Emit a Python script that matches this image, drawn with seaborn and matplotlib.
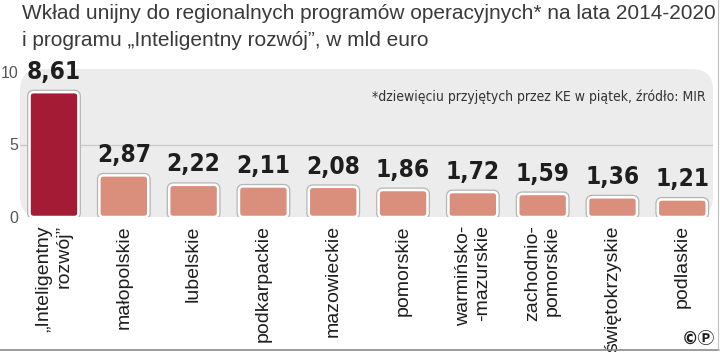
import pandas as pd
import seaborn as sns
import matplotlib.pyplot as plt
from matplotlib import font_manager
from matplotlib.patches import FancyBboxPatch
from matplotlib.lines import Line2D
import matplotlib.patheffects as pe

# Data
categories = ["„Inteligentny\nrozwój”", "małopolskie", "lubelskie", "podkarpackie",
              "mazowieckie", "pomorskie", "warmińsko-\n-mazurskie", "zachodnio-\npomorskie",
              "świętokrzyskie", "podlaskie"]
values = [8.61, 2.87, 2.22, 2.11, 2.08, 1.86, 1.72, 1.59, 1.36, 1.21]
value_labels = ["8,61", "2,87", "2,22", "2,11", "2,08", "1,86", "1,72", "1,59", "1,36", "1,21"]
y_ticks = [0, 5, 10]

title = ("Wkład unijny do regionalnych programów operacyjnych* na lata 2014-2020\n"
         "i programu „Inteligentny rozwój”, w mld euro")
note = "*dziewięciu przyjętych przez KE w piątek, źródło: MIR"

dark_red = "#a31b34"
salmon = "#d98f7c"
palette = [dark_red] + [salmon] * (len(categories) - 1)

df = pd.DataFrame({"region": categories, "value": values})

sns.set_style("white")
plt.rcParams['font.family'] = ['Liberation Sans', 'DejaVu Sans']

# a narrow face for the numbers and the footnote, if one is around
names = {f.name for f in font_manager.fontManager.ttflist}
narrow_family = ["Liberation Sans Narrow"] if "Liberation Sans Narrow" in names else ["DejaVu Sans"]

fig = plt.figure(figsize=(7.2, 3.52), dpi=100)
ax = fig.add_axes([20 / 720, 1 - 217 / 352, 693 / 720, 145 / 352])
ax.set_facecolor("none")

sns.barplot(data=df, x="region", y="value", color=salmon,
            width=0.7, saturation=1, ax=ax, zorder=2)
ax.set_ylim(0, 10)
ax.set_xlim(-0.487, 9.44)

ax.bar_label(ax.containers[0], labels=value_labels, padding=6,
             fontsize=17.5, fontweight="bold", color="#1e1e1e",
             family=narrow_family, fontstretch="condensed")

# rounded light-grey panel behind the bars
panel = FancyBboxPatch((0, 0), 1, 1.02, boxstyle="round,pad=0,rounding_size=0.03",
                       mutation_aspect=4.8, transform=ax.transAxes,
                       facecolor="#ececec", edgecolor="none", zorder=-2, clip_on=False)

# swap the square bars for rounded ones with white rim and soft grey outline
for bar, col in zip(list(ax.containers[0]), palette):
    x, y = bar.get_x(), bar.get_y()
    w, h = bar.get_width(), bar.get_height()
    fb = FancyBboxPatch((x, y), w, h, boxstyle="round,pad=0,rounding_size=0.06",
                        mutation_aspect=4.8, facecolor=col,
                        edgecolor="white", linewidth=1.8, zorder=3)
    fb.set_path_effects([pe.Stroke(linewidth=3.6, foreground="#b5b5b5"), pe.Normal()])
    ax.add_patch(fb)
    bar.set_visible(False)
ax.add_patch(panel)

ax.set_yticks(y_ticks)
ax.set_yticklabels([str(t) for t in y_ticks])
ax.tick_params(axis="y", length=0, pad=1, labelsize=11.5, labelcolor="#555555")
ax.tick_params(axis="x", length=0, pad=6, labelsize=14, labelcolor="#1e1e1e")
for lab in ax.get_xticklabels():
    lab.set_rotation(90)
    lab.set_va("top")
    lab.set_ha("center")
    lab.set_multialignment("right")
ax.axhline(5, color="#c9c9c9", linewidth=0.9, zorder=1)
ax.set_xlabel("")
ax.set_ylabel("")
sns.despine(ax=ax, left=True, bottom=True)

ax.text(0.99, 0.83, note, transform=ax.transAxes, ha="right", va="center",
        fontsize=10, color="#333333", family=narrow_family, fontstretch="condensed")

fig.text(22 / 720, 1 - 4 / 352, title, ha="left", va="top", fontsize=15,
         color="#3a3a3a", linespacing=1.5)

# frame lines at the bottom and right edge
fig.add_artist(Line2D([0, 719 / 720], [2 / 352, 2 / 352], color="#8a8a8a", linewidth=1.2))
fig.add_artist(Line2D([718 / 720, 718 / 720], [2 / 352, 1], color="#c0c0c0", linewidth=0.8))

fig.text(715 / 720, 4 / 352, "©Ⓟ", ha="right", va="bottom", fontsize=12,
         fontweight="bold", color="#1e1e1e",
         family=["DejaVu Sans", "Noto Sans CJK JP", "Noto Sans"])

fig.savefig("out.png", dpi=100)
